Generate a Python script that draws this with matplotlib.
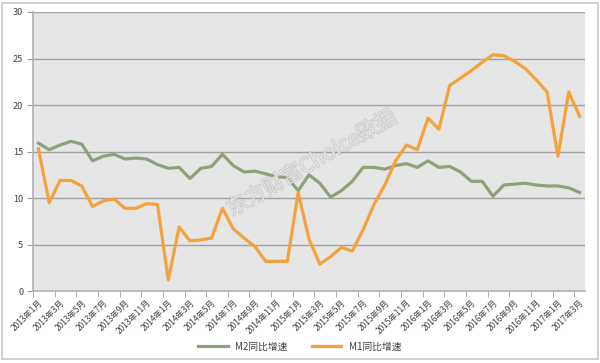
import matplotlib.pyplot as plt
from matplotlib.patches import Rectangle
import matplotlib.patheffects as pe
import numpy as np

plt.rcParams['font.family'] = ['Noto Sans CJK SC', 'DejaVu Sans']

# months 2013-01 .. 2017-03
months = ['%d年%d月' % (y, m) for y in range(2013, 2018) for m in range(1, 13)][:51]

# M2 year-on-year growth (%)
m2 = [15.9, 15.2, 15.7, 16.1, 15.8, 14.0, 14.5, 14.7, 14.2, 14.3, 14.2, 13.6,
      13.2, 13.3, 12.1, 13.2, 13.4, 14.7, 13.5, 12.8, 12.9, 12.6, 12.3, 12.2,
      10.8, 12.5, 11.6, 10.1, 10.8, 11.8, 13.3, 13.3, 13.1, 13.5, 13.7, 13.3,
      14.0, 13.3, 13.4, 12.8, 11.8, 11.8, 10.2, 11.4, 11.5, 11.6, 11.4, 11.3,
      11.3, 11.1, 10.6]
# M1 year-on-year growth (%)
m1 = [15.3, 9.5, 11.9, 11.9, 11.3, 9.1, 9.7, 9.9, 8.9, 8.9, 9.4, 9.3,
      1.2, 6.9, 5.4, 5.5, 5.7, 8.9, 6.7, 5.7, 4.8, 3.2, 3.2, 3.2,
      10.6, 5.6, 2.9, 3.7, 4.7, 4.3, 6.6, 9.3, 11.4, 14.0, 15.7, 15.2,
      18.6, 17.4, 22.1, 22.9, 23.7, 24.6, 25.4, 25.3, 24.7, 23.9, 22.7, 21.4,
      14.5, 21.4, 18.8]

green = '#8ea27a'
orange = '#f4a23c'

fig = plt.figure(figsize=(6, 3.63), dpi=100)
fig.patches.append(Rectangle((0.004, 0.012), 0.992, 0.98, transform=fig.transFigure,
                             fill=False, edgecolor='#c8c8c8', lw=1.2))
ax = fig.add_axes([0.055, 0.198, 0.92, 0.769])
ax.set_facecolor('#e6e6e6')

x = np.arange(len(months))
ax.plot(x, m2, color=green, lw=2.3, label='M2同比增速', zorder=3)
ax.plot(x, m1, color=orange, lw=2.3, label='M1同比增速', zorder=4)

ax.set_xlim(-0.5, len(months) - 0.5)
ax.set_ylim(0, 30)
ax.set_yticks(np.arange(0, 31, 5))
ax.yaxis.grid(True, color='#a0a0a0', lw=1)
ax.set_axisbelow(True)

ax.set_xticks(x[::2])
ax.set_xticklabels(months[::2], rotation=45, ha='right', rotation_mode='anchor',
                   fontsize=6, color='#404040')
ax.set_xticks(np.arange(-0.5, len(months) - 0.5, 2), minor=True)
ax.tick_params(axis='x', which='major', length=0, pad=5)
ax.tick_params(axis='x', which='minor', length=4, color='#a0a0a0')
ax.tick_params(axis='y', length=4, color='#a0a0a0', labelsize=6.5, labelcolor='#404040', pad=3)

for s in ['top', 'right']:
    ax.spines[s].set_visible(False)
for s in ['left', 'bottom']:
    ax.spines[s].set_color('#b0b0b0')
    ax.spines[s].set_linewidth(1.2)

fig.legend(loc='center', bbox_to_anchor=(0.5, 0.045), ncol=2, frameon=False,
           fontsize=7, handlelength=3, columnspacing=2.5, labelcolor='#404040')

# faint watermark
wm = fig.text(0.52, 0.55, '东方财富Choice数据', rotation=30, fontsize=15, color='#f2f2f2',
              ha='center', va='center', alpha=0.6, zorder=10)
wm.set_path_effects([pe.withStroke(linewidth=1.2, foreground='#b8b8b8')])

fig.savefig('out.png', dpi=100)
